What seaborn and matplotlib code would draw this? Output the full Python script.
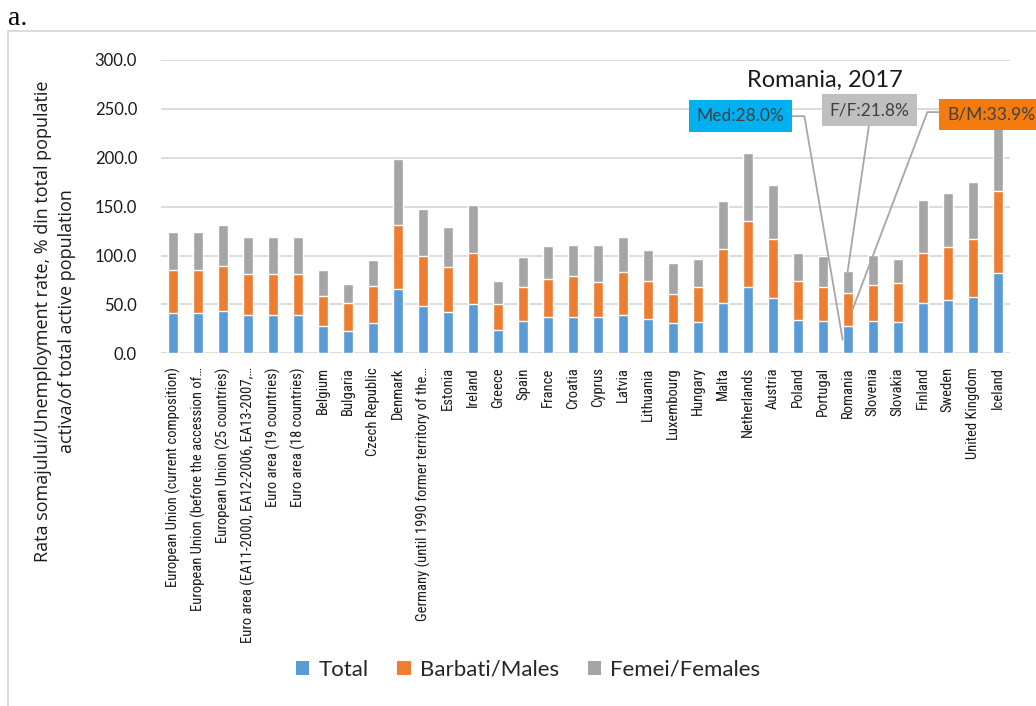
import matplotlib
matplotlib.use("Agg")
import matplotlib.pyplot as plt
from matplotlib import font_manager
from matplotlib.patches import Patch
from matplotlib.lines import Line2D
import numpy as np
import pandas as pd
import seaborn as sns

categories = [
    "European Union (current composition)",
    "European Union (before the accession of…",
    "European Union (25 countries)",
    "Euro area (EA11-2000, EA12-2006, EA13-2007,…",
    "Euro area (19 countries)",
    "Euro area (18 countries)",
    "Belgium", "Bulgaria", "Czech Republic", "Denmark",
    "Germany (until 1990 former territory of the…",
    "Estonia", "Ireland", "Greece", "Spain", "France", "Croatia", "Cyprus",
    "Latvia", "Lithuania", "Luxembourg", "Hungary", "Malta", "Netherlands",
    "Austria", "Poland", "Portugal", "Romania", "Slovenia", "Slovakia",
    "Finland", "Sweden", "United Kingdom", "Iceland",
]
total = [40.9, 40.9, 43.3, 38.9, 38.9, 38.9, 28.3, 23.2, 31.4, 65.5,
         48.8, 42.6, 50.1, 24.2, 32.7, 36.8, 36.8, 36.8, 38.9, 34.8,
         30.7, 32.0, 51.5, 67.5, 56.9, 33.8, 32.7, 28.0, 33.4, 32.0,
         51.5, 54.2, 58.0, 82.5]
males = [44.3, 44.3, 45.7, 42.6, 42.6, 42.6, 30.7, 28.3, 37.8, 65.4,
         51.1, 46.0, 52.9, 26.6, 34.8, 39.6, 42.0, 35.8, 43.9, 38.8,
         30.3, 36.2, 54.9, 67.5, 60.4, 39.8, 34.8, 33.9, 36.8, 39.6,
         51.5, 54.2, 59.3, 83.2]
females = [39.2, 39.2, 42.6, 37.1, 37.1, 37.1, 26.2, 19.4, 26.3, 67.5,
           47.4, 41.0, 48.7, 22.8, 31.4, 33.7, 32.3, 38.5, 35.8, 32.1,
           31.1, 28.3, 49.1, 69.6, 54.5, 29.0, 32.1, 21.8, 30.4, 24.9,
           53.5, 55.9, 57.9, 82.0]
series_names = ["Total", "Barbati/Males", "Femei/Females"]
yticks = [0, 50, 100, 150, 200, 250, 300]
highlight = "Romania"
title_text = "Romania, 2017"

c_total = "#5B9BD5"
c_males = "#ED7D31"
c_fem = "#A5A5A5"

sns.set_theme(style="white")
avail = {f.name for f in font_manager.fontManager.ttflist}
def pick(*names):
    for n in names:
        if n in avail:
            return n
    return "DejaVu Sans"
f_main = pick("Lato", "Liberation Sans")
f_narrow = pick("Liberation Sans Narrow", "DejaVu Sans Condensed", "Roboto Condensed", "Liberation Sans")
f_ylab = pick("Open Sans", "Liberation Sans")
f_serif = pick("Liberation Serif", "DejaVu Serif")
plt.rcParams["font.family"] = [f_main, "DejaVu Sans"]

W, H = 1036, 706
fig = plt.figure(figsize=(W / 100, H / 100), dpi=100)
ax = fig.add_axes([160.7 / W, (H - 353.3) / H, 849.3 / W, 293.3 / H])

df = pd.DataFrame({"cat": categories, "t": total, "m": males, "f": females})
df["tm"] = df["t"] + df["m"]
df["tmf"] = df["tm"] + df["f"]

sns.barplot(data=df, x="cat", y="tmf", order=categories, color=c_fem,
            saturation=1, width=0.4, ax=ax, zorder=2)
sns.barplot(data=df, x="cat", y="tm", order=categories, color=c_males,
            saturation=1, width=0.4, ax=ax, zorder=3)
sns.barplot(data=df, x="cat", y="t", order=categories, color=c_total,
            saturation=1, width=0.4, ax=ax, zorder=4)

ax.set_xlim(-0.5, len(categories) - 0.5)
ax.set_ylim(0, 300)
ax.set_yticks(yticks)
ax.set_yticklabels([f"{v:.1f}" for v in yticks], fontsize=12, color="#1a1a1a")
ax.set_xticks(range(len(categories)))
ax.set_xticklabels(categories, rotation=90, ha="center", va="top",
                   fontsize=10.5, family=[f_narrow, "DejaVu Sans"], color="#1a1a1a")
ax.tick_params(axis="both", length=0)
ax.tick_params(axis="x", pad=10)
ax.tick_params(axis="y", pad=17)
ax.set_xlabel("")
ax.set_ylabel("")
ax.yaxis.grid(True, color="#D9D9D9", linewidth=1.3)
ax.set_axisbelow(True)
for s in ax.spines.values():
    s.set_visible(False)

# Romania annotation
ri = categories.index(highlight)
t0, m0, f0 = total[ri], males[ri], females[ri]
lc = "#A6A6A6"
ax.text(26.1, 279.5, title_text, ha="center", va="center", fontsize=17,
        color="#1a1a1a", zorder=10)
ax.plot([24.78, 25.27, ri - 0.2], [242.5, 242.5, t0 / 2], color=lc, lw=1.3,
        zorder=8, clip_on=False)
ax.plot([27.87, ri], [236, t0 + m0 + f0], color=lc, lw=1.3, zorder=8, clip_on=False)
ax.plot([30.65, 30.19, ri + 0.2], [246.7, 246.7, t0 + m0 / 2], color=lc, lw=1.3,
        zorder=8, clip_on=False)
ax.text(22.71, 242.6, f"Med:{t0:.1f}%", ha="center", va="center", fontsize=12.5,
        color="#404040", zorder=11,
        bbox=dict(boxstyle="square,pad=0.45", fc="#00B0F0", ec="none"))
ax.text(27.87, 248.8, f"F/F:{f0:.1f}%", ha="center", va="center", fontsize=12.5,
        color="#404040", zorder=11,
        bbox=dict(boxstyle="square,pad=0.45", fc="#BFBFBF", ec="none"))
ax.text(30.99, 244.2, f"B/M:{m0:.1f}%", ha="left", va="center", fontsize=12.5,
        color="#404040", zorder=11, clip_on=False,
        bbox=dict(boxstyle="square,pad=0.45", fc="#F47B0E", ec="none"))

fig.text(55 / W, (H - 321) / H,
         "Rata somajului/Unemployment rate, % din total populatie\nactiva/of total active population",
         rotation=90, ha="center", va="center", fontsize=13, color="#1a1a1a",
         family=[f_ylab, "DejaVu Sans"], linespacing=1.45, multialignment="center")

handles = [Patch(facecolor=c, edgecolor="none") for c in (c_total, c_males, c_fem)]
fig.legend(handles, series_names, loc="center", bbox_to_anchor=(528 / W, 36 / H),
           ncol=3, frameon=False, fontsize=16, handlelength=0.6, handleheight=0.6,
           handletextpad=0.4, columnspacing=1.3)

fig.text(8 / W, (H - 25) / H, "a.", fontsize=20, family=[f_serif, "DejaVu Serif"],
         ha="left", va="baseline", color="black")
fig.add_artist(Line2D([7.5 / W, 7.5 / W, 1.0], [0, (H - 31) / H, (H - 31) / H],
                      transform=fig.transFigure, color="#D9D9D9", lw=1.3))

fig.savefig("out.png", dpi=100)
